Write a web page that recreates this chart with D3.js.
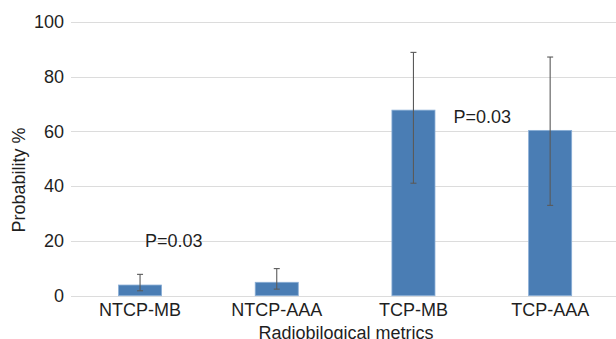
<!DOCTYPE html>
<html>
<head>
<meta charset="utf-8">
<script src="https://cdn.jsdelivr.net/npm/d3@7"></script>
<style>
  body { margin: 0; background: #fff; }
  svg { display: block; font-family: "Liberation Sans", Arial, sans-serif; }
</style>
</head>
<body>
<svg id="chart" width="616" height="339"></svg>
<script>
// podatki
var categories = ["NTCP-MB", "NTCP-AAA", "TCP-MB", "TCP-AAA"];
var values = [3.9, 4.9, 67.8, 60.4];
var errLow = [1.8, 2.4, 41.1, 33.0];
var errHigh = [7.8, 9.9, 88.9, 87.2];
var yTicks = [0, 20, 40, 60, 80, 100];
var pTexts = ["P=0.03", "P=0.03"];
var pCats = ["NTCP-MB", "TCP-MB"];
var pValues = [17.8, 63.2];
// zamik oznake od sredine stolpca (px)
var pOffsets = [5, 40];

var FS = 18;
var txtColor = "#1f1f1f";

var svg = d3.select("#chart");

var x = d3.scaleBand()
  .domain(categories)
  .range([71.7, 618.5])
  .paddingInner(0.685)
  .paddingOuter(0.3425);

var y = d3.scaleLinear()
  .domain([0, 100])
  .range([295.7, 22]);

var mid = d => x(d) + x.bandwidth() / 2;

// mreža
svg.append("g")
  .selectAll("line")
  .data(yTicks)
  .enter()
  .append("line")
  .attr("x1", 71)
  .attr("x2", 616)
  .attr("y1", d => Math.round(y(d)) + 0.5)
  .attr("y2", d => Math.round(y(d)) + 0.5)
  .attr("stroke", "#dcdcdc")
  .attr("stroke-width", 1.2);

// y os
var yAxis = svg.append("g")
  .attr("transform", "translate(64,0)")
  .call(d3.axisLeft(y).tickValues(yTicks).tickSize(0).tickPadding(0));
yAxis.select(".domain").remove();
yAxis.selectAll("text")
  .attr("font-size", FS)
  .attr("fill", txtColor)
  .attr("font-family", "Liberation Sans, Arial, sans-serif");

// stolpci
svg.append("g")
  .selectAll("rect")
  .data(categories)
  .enter()
  .append("rect")
  .attr("x", d => x(d))
  .attr("width", x.bandwidth())
  .attr("y", (d, i) => y(values[i]))
  .attr("height", (d, i) => y(0) - y(values[i]))
  .attr("fill", "#4a7db4")
  .attr("stroke", "#8aaed6")
  .attr("stroke-width", 0.8);

// error bars
var eb = svg.append("g")
  .selectAll("g")
  .data(categories)
  .enter()
  .append("g")
  .attr("stroke", "#5a5a5a")
  .attr("stroke-width", 1.1);

eb.append("line")
  .attr("x1", mid)
  .attr("x2", mid)
  .attr("y1", (d, i) => y(errLow[i]))
  .attr("y2", (d, i) => y(errHigh[i]));
eb.append("line")
  .attr("x1", d => mid(d) - 3)
  .attr("x2", d => mid(d) + 3)
  .attr("y1", (d, i) => y(errHigh[i]))
  .attr("y2", (d, i) => y(errHigh[i]));
eb.append("line")
  .attr("x1", d => mid(d) - 3)
  .attr("x2", d => mid(d) + 3)
  .attr("y1", (d, i) => y(errLow[i]))
  .attr("y2", (d, i) => y(errLow[i]));

// x os
var xAxis = svg.append("g")
  .attr("transform", "translate(0," + y(0) + ")")
  .call(d3.axisBottom(x).tickSize(0).tickPadding(8));
xAxis.select(".domain").remove();
xAxis.selectAll("text")
  .attr("font-size", FS)
  .attr("fill", txtColor)
  .attr("font-family", "Liberation Sans, Arial, sans-serif");

// P oznake
svg.append("g")
  .selectAll("text")
  .data(pTexts)
  .enter()
  .append("text")
  .attr("x", (d, i) => mid(pCats[i]) + pOffsets[i])
  .attr("y", (d, i) => y(pValues[i]))
  .attr("font-size", FS)
  .attr("fill", txtColor)
  .text(d => d);

// naslovi osi
svg.append("text")
  .attr("transform", "translate(25,180) rotate(-90)")
  .attr("text-anchor", "middle")
  .attr("font-size", FS)
  .attr("fill", txtColor)
  .text("Probability %");

svg.append("text")
  .attr("x", 346)
  .attr("y", 339)
  .attr("text-anchor", "middle")
  .attr("font-size", FS)
  .attr("fill", txtColor)
  .text("Radiobilogical metrics");
</script>
</body>
</html>
